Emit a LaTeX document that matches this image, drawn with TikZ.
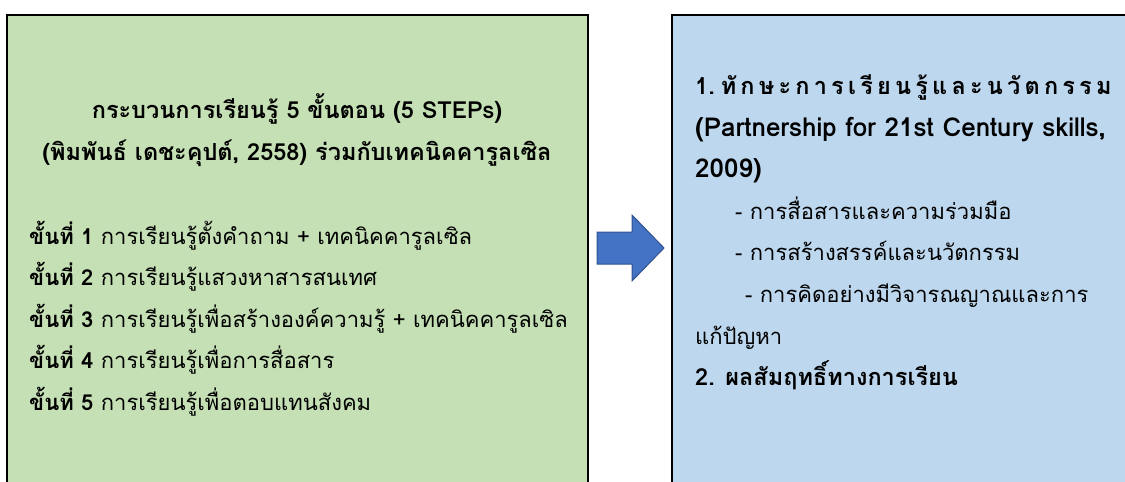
\documentclass[tikz,border=0pt]{standalone}
\usepackage{fontspec}
\setmainfont[Script=Thai]{Loma}

\definecolor{stepgreen}{HTML}{C5E0B4}
\definecolor{skillblue}{HTML}{BDD7EE}
\definecolor{arrowfill}{HTML}{4472C4}
\definecolor{arrowedge}{HTML}{2F528F}

\begin{document}
\begin{tikzpicture}[x=1pt,y=-1pt,
  txt/.style={anchor=base west, inner sep=0pt, font=\fontsize{22}{26}\selectfont},
  boldtxt/.style={anchor=base west, inner sep=0pt, font=\fontsize{23.5}{28}\selectfont\bfseries},
  headtxt/.style={anchor=base, inner sep=0pt, font=\fontsize{23.5}{28}\selectfont\bfseries}]
\useasboundingbox (0,0) rectangle (1125,482);
\clip (0,0) rectangle (1125,482);

% Panels
\draw[line width=2pt, fill=stepgreen] (7,15) rectangle (588,500);
\draw[line width=2pt, fill=skillblue] (672,15) rectangle (1140,500);

% Block arrow
\draw[arrowedge, fill=arrowfill, line width=1pt] (597,232) -- (632,232) -- (632,215)
  -- (664,248) -- (632,281) -- (632,264) -- (597,264) -- cycle;

% Left panel: title
\node[headtxt] (title1) at (297,118) {กระบวนการเรียนรู้ 5 ขั้นตอน (5 STEPs)};
\node[headtxt] (title2) at (297,160) {(พิมพันธ์ เดชะคุปต์, 2558) ร่วมกับเทคนิคคารูลเซิล};

% Left panel: steps
\foreach \n/\y/\lab in {1/244/{การเรียนรู้ตั้งคำถาม + เทคนิคคารูลเซิล},
                        2/285.5/{การเรียนรู้แสวงหาสารสนเทศ},
                        3/327/{การเรียนรู้เพื่อสร้างองค์ความรู้ + เทคนิคคารูลเซิล},
                        4/368.5/{การเรียนรู้เพื่อการสื่อสาร},
                        5/410/{การเรียนรู้เพื่อตอบแทนสังคม}} {
    \node[txt] (step\n) at (29,\y) {\textbf{ขั้นที่ \n} \lab};
}

% Right panel
\node[boldtxt] (skill1) at (695,94)
  {1.\hspace{6pt}\foreach \c in {ทั,ก,ษ,ะ,ก,า,ร,เ,รี,ย,น,รู้,แ,ล,ะ,น,วั,ต,ก,ร,ร,ม}{\c\hspace{4.2pt}}};
\node[boldtxt, font=\fontsize{26}{30}\selectfont\bfseries] (p21a) at (695,136) {(Partnership for 21st Century skills,};
\node[boldtxt, font=\fontsize{26}{30}\selectfont\bfseries] (p21b) at (695,177) {2009)};
\node[txt] (sub1) at (735,219) {- การสื่อสารและความร่วมมือ};
\node[txt] (sub2) at (735,260) {- การสร้างสรรค์และนวัตกรรม};
\node[txt] (sub3) at (745,302) {- การคิดอย่างมีวิจารณญาณและการ};
\node[txt] (sub3b) at (695,344) {แก้ปัญหา};
\node[boldtxt] (skill2) at (695,385) {2. ผลสัมฤทธิ์ทางการเรียน};
\end{tikzpicture}
\end{document}
